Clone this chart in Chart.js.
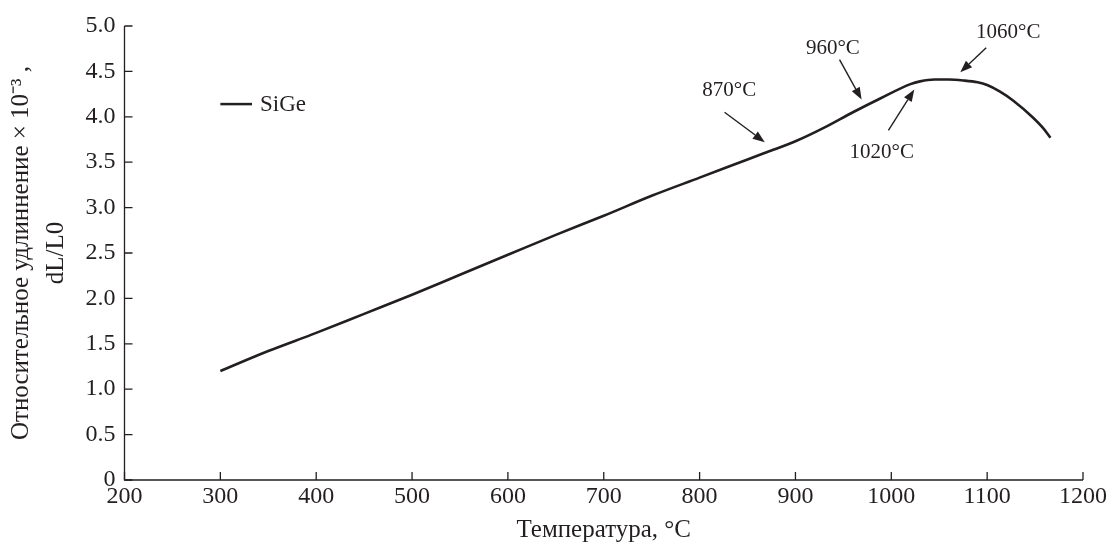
<!DOCTYPE html>
<html>
<head>
<meta charset="utf-8">
<script src="https://cdn.jsdelivr.net/npm/chart.js@4.4.1/dist/chart.umd.min.js"></script>
<style>
html,body{margin:0;padding:0;background:#fff;}
#wrap{width:1109px;height:545px;position:relative;}
</style>
</head>
<body>
<div id="wrap"><canvas id="c" width="1109" height="545"></canvas></div>
<script>
// Data
const temperatures = [300, 350, 400, 450, 500, 550, 600, 650, 700, 750, 800, 850, 870, 900, 930, 960, 990, 1020, 1030, 1045, 1060, 1075, 1090, 1100, 1113, 1127, 1148, 1158, 1166];
const elongation   = [1.20, 1.42, 1.62, 1.83, 2.04, 2.26, 2.48, 2.70, 2.91, 3.13, 3.33, 3.53, 3.61, 3.73, 3.88, 4.05, 4.21, 4.36, 4.39, 4.41, 4.41, 4.40, 4.38, 4.35, 4.28, 4.18, 3.99, 3.88, 3.77];
const seriesName = 'SiGe';
const xTicks = [200, 300, 400, 500, 600, 700, 800, 900, 1000, 1100, 1200];
const yTicks = [0, 0.5, 1.0, 1.5, 2.0, 2.5, 3.0, 3.5, 4.0, 4.5, 5.0];
const xTitle = 'Температура, °С';
const yTitle = ['Относительное удлиннение × 10⁻³ ,', 'dL/L0'];
// Annotations: label, label position, arrow start, arrow tip (data coords)
const annLabels = ['870°C', '960°C', '1020°C', '1060°C'];
const annText  = [[831, 4.29], [939, 4.75], [990, 3.61], [1122, 4.93]];
const annFrom  = [[826, 4.05], [946, 4.63], [997, 3.85], [1099, 4.76]];
const annTo    = [[868, 3.72], [969, 4.19], [1024, 4.30], [1072, 4.49]];
// Legend position (data coords)
const legendLine = [[300, 333], 4.14];

const INK = '#231f20';
const FONT = "'Liberation Serif', 'Times New Roman', serif";

const decor = {
  id: 'decor',
  afterDraw(chart) {
    const ctx = chart.ctx, xs = chart.scales.x, ys = chart.scales.y;
    const area = chart.chartArea;
    ctx.save();
    // axes
    ctx.strokeStyle = INK; ctx.lineWidth = 1.3;
    ctx.beginPath();
    ctx.moveTo(area.left, area.top); ctx.lineTo(area.left, area.bottom); ctx.lineTo(area.right, area.bottom);
    ctx.stroke();
    // inward ticks
    ctx.beginPath();
    yTicks.forEach(v => { const p = ys.getPixelForValue(v); ctx.moveTo(area.left, p); ctx.lineTo(area.left + 8, p); });
    xTicks.forEach(v => { const p = xs.getPixelForValue(v); ctx.moveTo(p, area.bottom); ctx.lineTo(p, area.bottom - 8); });
    ctx.stroke();
    // annotations
    ctx.fillStyle = INK; ctx.strokeStyle = INK; ctx.lineWidth = 1.4;
    ctx.font = '21px ' + FONT; ctx.textAlign = 'center'; ctx.textBaseline = 'middle';
    annLabels.forEach((t, i) => {
      ctx.fillText(t, xs.getPixelForValue(annText[i][0]), ys.getPixelForValue(annText[i][1]));
      const x1 = xs.getPixelForValue(annFrom[i][0]), y1 = ys.getPixelForValue(annFrom[i][1]);
      const x2 = xs.getPixelForValue(annTo[i][0]), y2 = ys.getPixelForValue(annTo[i][1]);
      const ang = Math.atan2(y2 - y1, x2 - x1), L = 12, W = 4.5;
      const bx = x2 - L * Math.cos(ang), by = y2 - L * Math.sin(ang);
      ctx.beginPath(); ctx.moveTo(x1, y1); ctx.lineTo(bx, by); ctx.stroke();
      ctx.beginPath();
      ctx.moveTo(x2, y2);
      ctx.lineTo(bx + W * Math.sin(ang), by - W * Math.cos(ang));
      ctx.lineTo(bx - W * Math.sin(ang), by + W * Math.cos(ang));
      ctx.closePath(); ctx.fill();
    });
    // legend
    const lx1 = xs.getPixelForValue(legendLine[0][0]), lx2 = xs.getPixelForValue(legendLine[0][1]);
    const ly = ys.getPixelForValue(legendLine[1]);
    ctx.lineWidth = 2.5;
    ctx.beginPath(); ctx.moveTo(lx1, ly); ctx.lineTo(lx2, ly); ctx.stroke();
    ctx.textAlign = 'left'; ctx.font = '23px ' + FONT;
    ctx.fillText(seriesName, lx2 + 8, ly + 1);
    ctx.restore();
  }
};

new Chart(document.getElementById('c'), {
  type: 'line',
  data: {
    datasets: [{
      label: seriesName,
      data: temperatures.map((t, i) => ({x: t, y: elongation[i]})),
      borderColor: INK,
      borderWidth: 2.6,
      pointRadius: 0,
      tension: 0.4,
      cubicInterpolationMode: 'monotone',
      fill: false
    }]
  },
  options: {
    responsive: false,
    animation: false,
    layout: {padding: {left: 0, right: 26, top: 26, bottom: 0}},
    plugins: {legend: {display: false}, tooltip: {enabled: false}},
    scales: {
      x: {
        type: 'linear', min: 200, max: 1200,
        afterBuildTicks: s => { s.ticks = xTicks.map(v => ({value: v})); },
        afterFit: s => { s.height = 65; },
        grid: {display: false, drawTicks: false},
        border: {display: false},
        ticks: {color: INK, font: {family: FONT, size: 24}, padding: 2, maxRotation: 0, autoSkip: false,
                callback: v => String(v)},
        title: {display: true, text: xTitle, color: INK, font: {family: FONT, size: 25}, padding: {top: 0, bottom: 0}}
      },
      y: {
        type: 'linear', min: 0, max: 5,
        afterBuildTicks: s => { s.ticks = yTicks.map(v => ({value: v})); },
        afterFit: s => { s.width = 124.5; },
        grid: {display: false, drawTicks: false},
        border: {display: false},
        ticks: {color: INK, font: {family: FONT, size: 24}, padding: 9, autoSkip: false,
                callback: v => v === 0 ? '0' : v.toFixed(1)},
        title: {display: true, text: yTitle, color: INK, font: {family: FONT, size: 25, lineHeight: 1.4}, padding: {top: 4, bottom: 4}}
      }
    }
  },
  plugins: [decor]
});
</script>
</body>
</html>
